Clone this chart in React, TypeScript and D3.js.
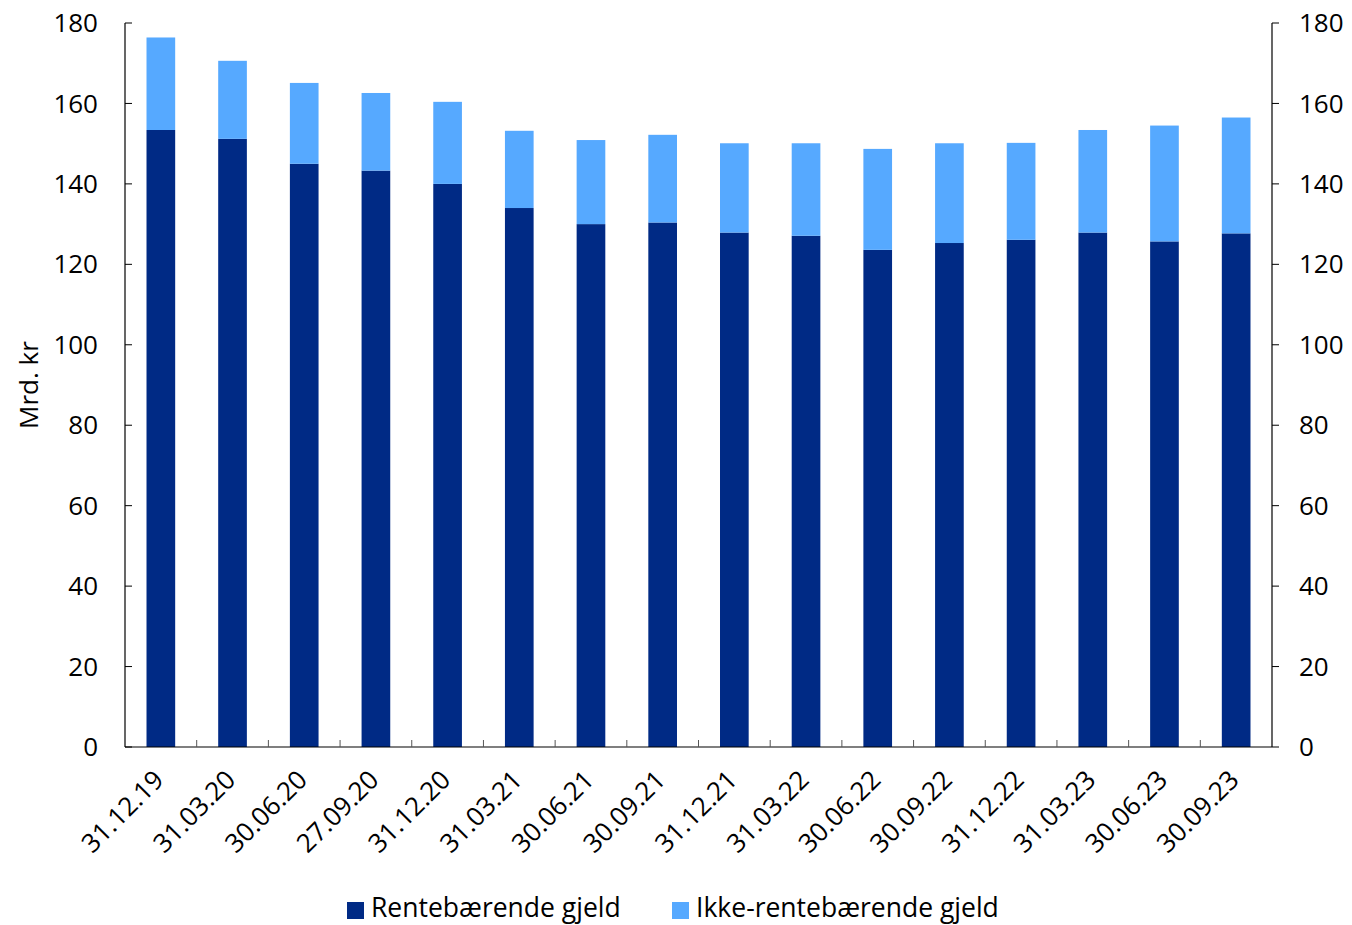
import React from "react";
import * as d3 from "d3";

const categories = ["31.12.19","31.03.20","30.06.20","27.09.20","31.12.20","31.03.21","30.06.21","30.09.21","31.12.21","31.03.22","30.06.22","30.09.22","31.12.22","31.03.23","30.06.23","30.09.23"];
const rentebaerende = [153.4,151.2,145.0,143.3,140.0,134.0,130.0,130.4,127.9,127.1,123.6,125.3,126.1,127.9,125.7,127.7];
const ikkeRentebaerende = [23.0,19.4,20.1,19.3,20.4,19.2,20.9,21.8,22.2,23.0,25.1,24.8,24.1,25.5,28.8,28.8];
const yTicks = [0,20,40,60,80,100,120,140,160,180];
const seriesNames = ["Rentebærende gjeld","Ikke-rentebærende gjeld"];
const colors = ["#002A85","#56A9FF"];

const W = 1352, H = 925;
const left = 125, right = 1272, top = 23, bottom = 747;
const font = "'Open Sans', 'Noto Sans', sans-serif";
const fs = 26;

export default function App() {
  const x = d3.scaleBand<string>().domain(categories).range([left, right]).paddingInner(0.6).paddingOuter(0.3);
  const xb = d3.scaleBand<string>().domain(categories).range([left, right]);
  const y = d3.scaleLinear().domain([0, 180]).range([bottom, top]);
  const rows = categories.map((c, i) => ({ c, a: rentebaerende[i], b: ikkeRentebaerende[i] }));
  const stack = d3.stack<any>().keys(["a", "b"])(rows);

  return (
    <svg width={W} height={H} style={{ position: "absolute", left: 0, top: 0, background: "#fff" }} fontFamily={font}>
      {stack.map((s, si) =>
        s.map((d, i) => (
          <rect key={si + "-" + i} x={x(categories[i])} width={x.bandwidth()} y={y(d[1])} height={y(d[0]) - y(d[1])} fill={colors[si]} />
        ))
      )}
      {/* x axis */}
      <line x1={left} x2={right} y1={bottom} y2={bottom} stroke="#000" strokeWidth={1.2} />
      {categories.slice(1).map((c) => (
        <line key={"xt" + c} x1={xb(c)} x2={xb(c)} y1={bottom} y2={bottom - 7} stroke="#555" strokeWidth={1} />
      ))}
      {categories.map((c) => {
        const cx = (xb(c) as number) + xb.bandwidth() / 2 - 2;
        const cy = bottom + 28;
        return (
          <text key={"xl" + c} transform={`translate(${cx},${cy}) rotate(-45)`} textAnchor="end" dy="0.35em" fontSize={fs} fill="#000">{c}</text>
        );
      })}
      {/* left axis */}
      <line x1={left} x2={left} y1={top} y2={bottom} stroke="#000" strokeWidth={1.2} />
      {yTicks.map((t) => (
        <g key={"yl" + t}>
          <line x1={left} x2={left + 7} y1={y(t)} y2={y(t)} stroke="#000" strokeWidth={1} />
          <text x={98} y={y(t)} dy="0.35em" textAnchor="end" fontSize={fs} fill="#000">{t}</text>
        </g>
      ))}
      {/* right axis */}
      <line x1={right} x2={right} y1={top} y2={bottom} stroke="#000" strokeWidth={1.2} />
      {yTicks.map((t) => (
        <g key={"yr" + t}>
          <line x1={right} x2={right + 7} y1={y(t)} y2={y(t)} stroke="#000" strokeWidth={1} />
          <text x={1299} y={y(t)} dy="0.35em" textAnchor="start" fontSize={fs} fill="#000">{t}</text>
        </g>
      ))}
      <text transform={`translate(38,${(top + bottom) / 2}) rotate(-90)`} textAnchor="middle" fontSize={fs} fill="#000">Mrd. kr</text>
      {/* legend */}
      <rect x={347} y={902} width={17} height={17} fill={colors[0]} />
      <text x={371} y={908} dy="0.35em" fontSize={26.5} fill="#000">{seriesNames[0]}</text>
      <rect x={672} y={902} width={17} height={17} fill={colors[1]} />
      <text x={696} y={908} dy="0.35em" fontSize={26.5} fill="#000">{seriesNames[1]}</text>
    </svg>
  );
}
